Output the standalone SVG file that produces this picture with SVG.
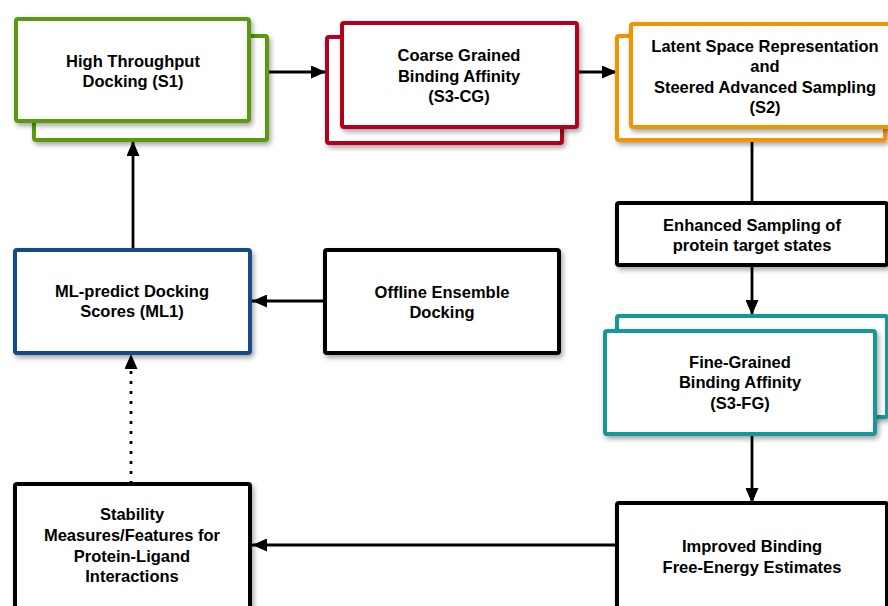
<svg xmlns="http://www.w3.org/2000/svg" width="888" height="606" viewBox="0 0 888 606">
<defs>
<filter id="sh" x="-10%" y="-10%" width="130%" height="140%">
<feDropShadow dx="2" dy="3" stdDeviation="2.5" flood-color="#000" flood-opacity="0.35"/>
</filter>
<marker id="ah" viewBox="0 0 15 13" refX="15" refY="6.5" markerWidth="15" markerHeight="13" markerUnits="userSpaceOnUse" orient="auto">
<path d="M0,0 L15,6.5 L0,13 Z" fill="#000"/>
</marker>
</defs>
<style>
.box{fill:#fff;stroke-width:4;filter:url(#sh)}
.g{stroke:#5a9a0c}
.r{stroke:#b3001e}
.o{stroke:#f49300}
.t{stroke:#129898}
.b{stroke:#154a8a}
.k{stroke:#000}
text{font-family:"Liberation Sans",Arial,sans-serif;font-weight:bold;font-size:16.5px;fill:#000;text-anchor:middle}
.c{stroke:#000;stroke-width:2.8;fill:none}
</style>
<rect width="888" height="606" fill="#fff"/>
<g id="connectors">
<line class="c" x1="250" y1="72" x2="326" y2="72" marker-end="url(#ah)"/>
<line class="c" x1="578" y1="72" x2="617" y2="72" marker-end="url(#ah)"/>
<line class="c" x1="752" y1="140" x2="752" y2="203"/>
<line class="c" x1="752" y1="265" x2="752" y2="315" marker-end="url(#ah)"/>
<line class="c" x1="752" y1="434" x2="752" y2="503" marker-end="url(#ah)"/>
<line class="c" x1="617" y1="545" x2="252" y2="545" marker-end="url(#ah)"/>
<line class="c" x1="131" y1="484" x2="131" y2="354" stroke-dasharray="3,7" marker-end="url(#ah)"/>
<line class="c" x1="133" y1="250" x2="133" y2="141" marker-end="url(#ah)"/>
<line class="c" x1="325" y1="301" x2="252" y2="301" marker-end="url(#ah)"/>
</g>
<g id="s1">
<rect class="box g" x="34" y="36" width="233" height="104" rx="2"/>
<rect class="box g" x="16" y="19" width="233" height="102" rx="2"/>
<text x="133" y="67">High Throughput</text>
<text x="133" y="87">Docking (S1)</text>
</g>
<g id="s3cg">
<rect class="box r" x="327" y="37" width="235" height="106" rx="2"/>
<rect class="box r" x="342" y="23" width="235" height="104" rx="2"/>
<text x="459" y="61">Coarse Grained</text>
<text x="459" y="82">Binding Affinity</text>
<text x="459" y="102">(S3-CG)</text>
</g>
<g id="s2">
<rect class="box o" x="617" y="36" width="268" height="104" rx="2"/>
<rect class="box o" x="631" y="24" width="268" height="103" rx="2"/>
<text x="765" y="52">Latent Space Representation</text>
<text x="765" y="72">and</text>
<text x="765" y="93">Steered Advanced Sampling</text>
<text x="765" y="113">(S2)</text>
</g>
<g id="enhanced">
<rect class="box k" x="617" y="203" width="270" height="62" rx="2"/>
<text x="752" y="231">Enhanced Sampling of</text>
<text x="752" y="251">protein target states</text>
</g>
<g id="s3fg">
<rect class="box t" x="617" y="316" width="270" height="101" rx="2"/>
<rect class="box t" x="605" y="331" width="270" height="103" rx="2"/>
<text x="740" y="368">Fine-Grained</text>
<text x="740" y="388">Binding Affinity</text>
<text x="740" y="409">(S3-FG)</text>
</g>
<g id="improved">
<rect class="box k" x="617" y="503" width="270" height="110" rx="2"/>
<text x="752" y="552">Improved Binding</text>
<text x="752" y="573">Free-Energy Estimates</text>
</g>
<g id="stability">
<rect class="box k" x="15" y="484" width="235" height="130" rx="2"/>
<text x="132" y="520">Stability</text>
<text x="132" y="541">Measures/Features for</text>
<text x="132" y="562">Protein-Ligand</text>
<text x="132" y="582">Interactions</text>
</g>
<g id="ml1">
<rect class="box b" x="15" y="250" width="235" height="103" rx="2"/>
<text x="132" y="297">ML-predict Docking</text>
<text x="132" y="317">Scores (ML1)</text>
</g>
<g id="offline">
<rect class="box k" x="325" y="250" width="234" height="103" rx="2"/>
<text x="442" y="298">Offline Ensemble</text>
<text x="442" y="318">Docking</text>
</g>
</svg>
